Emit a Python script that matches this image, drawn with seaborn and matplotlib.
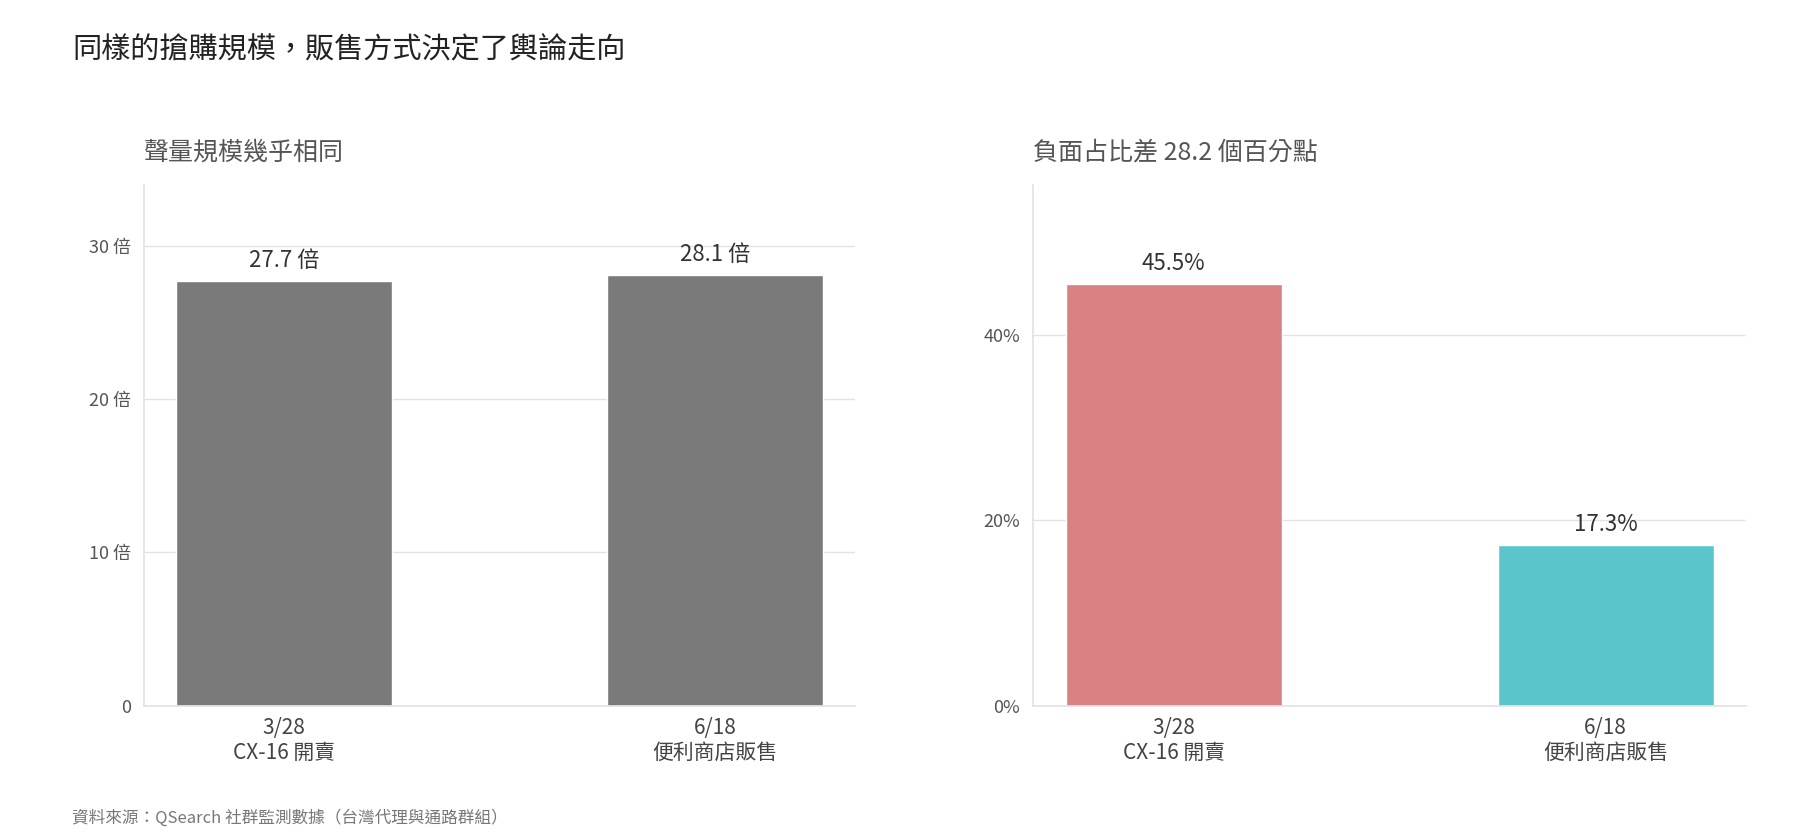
import matplotlib.pyplot as plt
import seaborn as sns
import pandas as pd

categories = ["3/28\nCX-16 開賣", "6/18\n便利商店販售"]
volume = [27.7, 28.1]
negative = [45.5, 17.3]
volume_labels = ["27.7 倍", "28.1 倍"]
negative_labels = ["45.5%", "17.3%"]

sns.set_theme(style="white")
plt.rcParams['font.family'] = ['Noto Sans CJK TC', 'DejaVu Sans']

fig = plt.figure(figsize=(18, 8.4), dpi=100)
ax1 = fig.add_axes([0.080, 0.16, 0.395, 0.62])
ax2 = fig.add_axes([0.574, 0.16, 0.396, 0.62])

def style(ax, title):
    for s in ["top", "right"]:
        ax.spines[s].set_visible(False)
    for s in ["left", "bottom"]:
        ax.spines[s].set_color("#e3e3e3")
    ax.grid(axis="y", color="#e3e3e3", linewidth=1)
    ax.set_axisbelow(True)
    ax.tick_params(axis="y", length=6, color="#333333", labelsize=13, labelcolor="#555555")
    ax.tick_params(axis="x", length=0, labelsize=15, labelcolor="#444444", pad=8)
    ax.set_xlabel("")
    ax.set_ylabel("")
    ax.set_xlim(-0.325, 1.325)
    ax.set_title(title, loc="left", fontsize=18, color="#555555", pad=18)

df1 = pd.DataFrame({"cat": categories, "v": volume})
sns.barplot(data=df1, x="cat", y="v", color="#7a7a7a", saturation=1, width=0.5, ax=ax1)
style(ax1, "聲量規模幾乎相同")
ax1.set_ylim(0, 34)
ax1.set_yticks([0, 10, 20, 30])
ax1.set_yticklabels(["0", "10 倍", "20 倍", "30 倍"])
for i, (v, t) in enumerate(zip(volume, volume_labels)):
    ax1.text(i, v + 0.6, t, ha="center", va="bottom", fontsize=16, color="#333333")

df2 = pd.DataFrame({"cat": categories, "v": negative})
sns.barplot(data=df2, x="cat", y="v", hue="cat", palette=["#d98083", "#5bc6c9"],
            saturation=1, width=0.5, legend=False, ax=ax2)
style(ax2, "負面占比差 28.2 個百分點")
ax2.set_ylim(0, 56.2)
ax2.set_yticks([0, 20, 40])
ax2.set_yticklabels(["0%", "20%", "40%"])
for i, (v, t) in enumerate(zip(negative, negative_labels)):
    ax2.text(i, v + 1.0, t, ha="center", va="bottom", fontsize=16, color="#333333")

fig.text(0.040, 0.93, "同樣的搶購規模，販售方式決定了輿論走向", fontsize=21, color="#222222")
fig.text(0.040, 0.02, "資料來源：QSearch 社群監測數據（台灣代理與通路群組）", fontsize=12, color="#777777")

plt.savefig("out.png", dpi=100)
